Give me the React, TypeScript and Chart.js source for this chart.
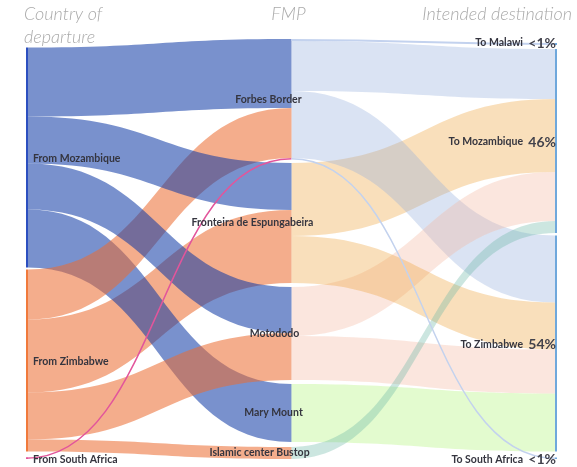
import React, { useEffect, useRef } from "react";
import { Chart, registerables } from "chart.js";

Chart.register(...registerables);

// ---------- data ----------
const departureNodes = ["From Mozambique", "From Zimbabwe", "From South Africa"];
const fmpNodes = ["Forbes Border", "Fronteira de Espungabeira", "Motododo", "Mary Mount", "Islamic center Bustop"];
const destinationNodes = ["To Malawi", "To Mozambique", "To Zimbabwe", "To South Africa"];
const destinationShares = ["<1%", "46%", "54%", "<1%"];
const columnTitles = ["Country of\ndeparture", "FMP", "Intended destination"];

// [departure index, FMP index, value]
const departureFlows: number[][] = [
  [0, 0, 69], [0, 1, 47], [0, 2, 46], [0, 3, 58],
  [1, 0, 50], [1, 1, 73], [1, 2, 47], [1, 4, 12],
  [2, 0, 1.5],
];
// [FMP index, destination index, value]
const destinationFlows: number[][] = [
  [0, 0, 2], [0, 1, 50], [0, 2, 67], [0, 3, 1.5],
  [1, 1, 73], [1, 2, 47],
  [2, 1, 49], [2, 2, 44],
  [3, 2, 58],
  [4, 1, 12],
];

// ---------- styling ----------
const columnGaps = [[2, 6], [3.5, 4, 4, 5], [4, 2.5, 6]];
const Y_MAX = 420;
const departureColors = ["rgba(16,58,166,0.56)", "rgba(235,108,50,0.56)", "#e2559b"];
const departureBarColors = ["#2c4fbf", "#f07a3c", "#e2559b"];
const fmpColors = [
  "rgba(149,175,221,0.35)",
  "rgba(238,164,61,0.35)",
  "rgba(244,184,161,0.35)",
  "rgba(175,244,118,0.35)",
  "rgba(109,184,166,0.35)",
];
const thinFmpColors = ["#c3d2ee", "#f5cf9a", "#f5d2c4", "#cdf5ae", "#a9d5cb"];
const destinationBarColor = "#6fa8dc";
const fmpLabelDx = [-23, -39, -17, -18, -32];
const LABEL_FONT = "bold 10.5px Lato, 'DejaVu Sans', sans-serif";
const LABEL_COLOR = "#35353f";

type Link = { col: number; s: number; t: number; v: number; sy: number; ty: number };

function computeLayout() {
  const cols = [departureNodes, fmpNodes, destinationNodes];
  const inSum = cols.map((c) => c.map(() => 0));
  const outSum = cols.map((c) => c.map(() => 0));
  const flowSets = [departureFlows, destinationFlows];
  flowSets.forEach((fl, col) =>
    fl.forEach(([s, t, v]) => {
      outSum[col][s] += v;
      inSum[col + 1][t] += v;
    })
  );
  const sizes = cols.map((c, ci) => c.map((_, i) => Math.max(inSum[ci][i], outSum[ci][i])));
  const tops = sizes.map((sz, ci) => {
    const total = sz.reduce((a, b) => a + b, 0) + columnGaps[ci].reduce((a, b) => a + b, 0);
    let y = Y_MAX - total;
    return sz.map((s, i) => {
      const top = y;
      y += s + (columnGaps[ci][i] || 0);
      return top;
    });
  });
  const links: Link[] = [];
  flowSets.forEach((fl, col) => {
    const ls = fl.map(([s, t, v]) => ({ col, s, t, v, sy: 0, ty: 0 }));
    const outOff = tops[col].slice();
    [...ls].sort((a, b) => a.s - b.s || a.t - b.t).forEach((l) => {
      l.sy = outOff[l.s];
      outOff[l.s] += l.v;
    });
    const inOff = tops[col + 1].slice();
    [...ls].sort((a, b) => a.t - b.t || a.s - b.s).forEach((l) => {
      l.ty = inOff[l.t];
      inOff[l.t] += l.v;
    });
    links.push(...ls);
  });
  return { sizes, tops, links };
}

function bandPath(ctx: CanvasRenderingContext2D, x0: number, y0t: number, y0b: number, x1: number, y1t: number, y1b: number) {
  const xm = (x0 + x1) / 2;
  ctx.beginPath();
  ctx.moveTo(x0, y0t);
  ctx.bezierCurveTo(xm, y0t, xm, y1t, x1, y1t);
  ctx.lineTo(x1, y1b);
  ctx.bezierCurveTo(xm, y1b, xm, y0b, x0, y0b);
  ctx.closePath();
}

const sankeyPlugin = {
  id: "sankeyPlugin",
  afterDatasetsDraw(chart: any) {
    const ctx: CanvasRenderingContext2D = chart.ctx;
    const xs = chart.scales.x;
    const ys = chart.scales.y;
    const { sizes, tops, links } = computeLayout();
    const colX = [xs.getPixelForValue(0), xs.getPixelForValue(1), xs.getPixelForValue(2)];
    const barW = 2;
    const Y = (v: number) => ys.getPixelForValue(v);

    ctx.save();
    const ordered = [...links].sort((a, b) => b.v - a.v);
    ordered.forEach((l) => {
      const x0 = l.col === 0 ? colX[0] + barW : colX[1];
      const x1 = l.col === 0 ? colX[1] : colX[2] - barW;
      const y0t = Y(l.sy), y0b = Y(l.sy + l.v);
      const y1t = Y(l.ty), y1b = Y(l.ty + l.v);
      if (l.v < 3) {
        const xm = (x0 + x1) / 2;
        const a = (y0t + y0b) / 2, b = (y1t + y1b) / 2;
        ctx.beginPath();
        ctx.moveTo(l.col === 0 ? colX[0] : x0, a);
        ctx.bezierCurveTo(xm, a, xm, b, x1, b);
        ctx.lineWidth = Math.max(1.2, y0b - y0t);
        ctx.strokeStyle = l.col === 0 ? departureColors[l.s] : thinFmpColors[l.s];
        ctx.stroke();
      } else {
        bandPath(ctx, x0, y0t, y0b, x1, y1t, y1b);
        ctx.fillStyle = l.col === 0 ? departureColors[l.s] : fmpColors[l.s];
        ctx.fill();
      }
    });

    // node bars
    departureNodes.forEach((_, i) => {
      ctx.fillStyle = departureBarColors[i];
      const t = Y(tops[0][i]), h = Math.max(1.5, Y(tops[0][i] + sizes[0][i]) - t);
      ctx.fillRect(colX[0], t, barW, h);
    });
    destinationNodes.forEach((_, i) => {
      ctx.fillStyle = destinationBarColor;
      const t = Y(tops[2][i]), h = Math.max(1.5, Y(tops[2][i] + sizes[2][i]) - t);
      ctx.fillRect(colX[2] - barW, t, barW, h);
    });

    // labels
    ctx.font = LABEL_FONT;
    ctx.fillStyle = LABEL_COLOR;
    ctx.textBaseline = "middle";
    ctx.textAlign = "left";
    departureNodes.forEach((n, i) => {
      ctx.fillText(n, colX[0] + 7, Y(tops[0][i] + sizes[0][i] / 2) + 1);
    });
    ctx.textAlign = "center";
    fmpNodes.forEach((n, i) => {
      ctx.fillText(n, colX[1] + fmpLabelDx[i], Y(tops[1][i] + sizes[1][i] / 2));
    });
    destinationNodes.forEach((n, i) => {
      const yc = Y(tops[2][i] + sizes[2][i] / 2);
      const ly = i === 0 ? yc - 1 : i === 3 ? yc + 1.5 : yc + 1;
      ctx.font = LABEL_FONT;
      ctx.textAlign = "right";
      ctx.fillStyle = LABEL_COLOR;
      ctx.fillText(n, colX[2] - 34, ly);
      ctx.font = "bold 14px Lato, 'DejaVu Sans', sans-serif";
      ctx.fillStyle = "#42424c";
      ctx.fillText(destinationShares[i], colX[2] - 1, ly);
    });

    // column titles
    ctx.font = "italic 300 18px Lato, 'DejaVu Sans', sans-serif";
    ctx.fillStyle = "#aaaaaa";
    ctx.textBaseline = "middle";
    const t0 = columnTitles[0].split("\n");
    ctx.textAlign = "left";
    t0.forEach((line, k) => ctx.fillText(line, colX[0] - 2, 14 + k * 23));
    ctx.textAlign = "center";
    ctx.fillText(columnTitles[1], colX[1] - 3, 14);
    ctx.textAlign = "right";
    ctx.fillText(columnTitles[2], colX[2] + 15, 14);
    ctx.restore();
  },
};

export default function App() {
  const ref = useRef<HTMLCanvasElement | null>(null);
  useEffect(() => {
    if (!ref.current) return;
    const chart = new Chart(ref.current, {
      type: "scatter",
      data: { datasets: [{ data: [] }] },
      options: {
        animation: false,
        responsive: false,
        devicePixelRatio: 1,
        layout: { padding: { left: 26, right: 20, top: 39, bottom: 8 } },
        plugins: { legend: { display: false }, tooltip: { enabled: false }, title: { display: false } },
        scales: {
          x: { type: "linear", min: 0, max: 2, display: false },
          y: { type: "linear", min: 0, max: Y_MAX, reverse: true, display: false },
        },
      },
      plugins: [sankeyPlugin],
    });
    return () => chart.destroy();
  }, []);
  return (
    <div style={{ position: "absolute", left: 0, top: 0, width: 577, height: 467, background: "#fff" }}>
      <canvas ref={ref} width={577} height={467} style={{ display: "block" }} />
    </div>
  );
}
